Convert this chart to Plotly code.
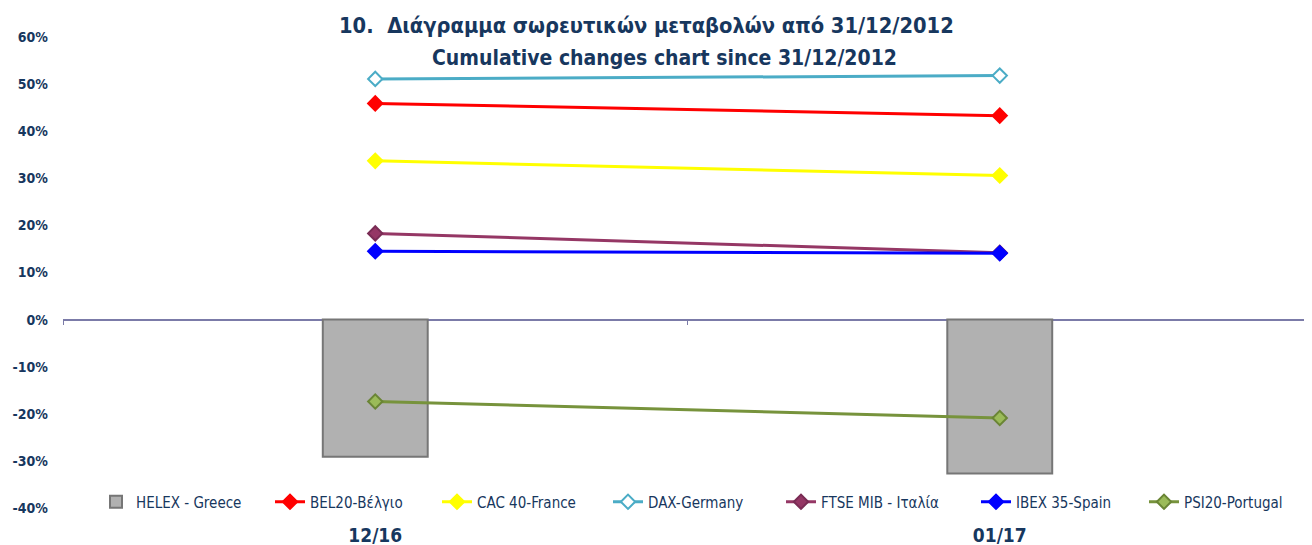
import plotly.graph_objects as go

categories = ["12/16", "01/17"]
helex = [-29.1, -32.7]
bel20 = [45.9, 43.3]
cac40 = [33.7, 30.6]
dax = [51.1, 51.8]
ftse = [18.3, 14.2]
ibex = [14.5, 14.1]
psi20 = [-17.4, -20.9]
y_ticks = [60, 50, 40, 30, 20, 10, 0, -10, -20, -30, -40]
y_tick_labels = [f"{v}%" for v in y_ticks]

FONT = "DejaVu Sans Condensed, Liberation Sans Narrow, sans-serif"
NAVY = "#17375E"

# page geometry (the page body has an 8px margin)
OFF = 8
PLOT_L, PLOT_R = 63, 1312
PLOT_T, PLOT_B = 37, 508
PW = PLOT_R - PLOT_L
PH = PLOT_B - PLOT_T


def px_x(p):
    return (p - PLOT_L) / PW


def px_y(p):
    return (PLOT_B - p) / PH


legend_text_starts = [136, 310, 477, 648, 821, 1016, 1184]

fig = go.Figure()
fig.add_trace(go.Bar(
    x=categories, y=[v / 100 for v in helex], name="HELEX - Greece",
    width=0.168, legend="legend",
    marker=dict(color="#B1B1B1", line=dict(color="#767676", width=2)),
))

lines = [
    ("BEL20-Βέλγιο", bel20, "#FF0000", "#FF0000", "#FF0000"),
    ("CAC 40-France", cac40, "#FFFF00", "#FFFF00", "#FFFF00"),
    ("DAX-Germany", dax, "#4BACC6", "#FFFFFF", "#4BACC6"),
    ("FTSE MIB - Ιταλία", ftse, "#953765", "#953765", "#7A2C55"),
    ("IBEX 35-Spain", ibex, "#0000FF", "#0000FF", "#0000FF"),
    ("PSI20-Portugal", psi20, "#77933C", "#9BBB59", "#6A8535"),
]
for i, (name, vals, col, fill, edge) in enumerate(lines):
    fig.add_trace(go.Scatter(
        x=categories, y=[v / 100 for v in vals], name=name, mode="lines+markers",
        legend=f"legend{i + 2}",
        line=dict(color=col, width=3),
        marker=dict(symbol="diamond", size=11, color=fill, line=dict(color=edge, width=2)),
    ))

# invisible helper trace so the zero-line category tick axis is drawn
fig.add_trace(go.Scatter(
    x=categories, y=[0, 0], xaxis="x2", mode="markers", showlegend=False,
    marker=dict(opacity=0), hoverinfo="skip",
))

legend_cfg = {}
for i, ts in enumerate(legend_text_starts):
    key = "legend" if i == 0 else f"legend{i + 1}"
    legend_cfg[key] = dict(
        orientation="h", x=px_x(ts - 40), xanchor="left", y=px_y(502), yanchor="middle",
        font=dict(family=FONT, size=15, color=NAVY), bgcolor="rgba(0,0,0,0)",
        borderwidth=0,
    )

fig.update_layout(
    width=1312 - OFF, height=545 - OFF,
    margin=dict(l=PLOT_L - OFF, r=0, t=PLOT_T - OFF, b=545 - PLOT_B),
    paper_bgcolor="white", plot_bgcolor="white",
    font=dict(family=FONT, color=NAVY, size=15),
    showlegend=True,
    annotations=[
        dict(text="<b>10.  Διάγραμμα σωρευτικών μεταβολών από 31/12/2012</b>",
             xref="paper", yref="paper", x=px_x(646), y=px_y(25), showarrow=False,
             xanchor="center", yanchor="middle", font=dict(family=FONT, size=21.7, color=NAVY)),
        dict(text="<b>Cumulative changes chart since 31/12/2012</b>",
             xref="paper", yref="paper", x=px_x(664), y=px_y(58), showarrow=False,
             xanchor="center", yanchor="middle", font=dict(family=FONT, size=21, color=NAVY)),
    ],
    **legend_cfg,
)
fig.update_xaxes(type="category", showgrid=False, showline=False, ticks="",
                 tickvals=categories, ticktext=[f"<b>{c}</b>" for c in categories],
                 ticklabelstandoff=14,
                 tickfont=dict(family=FONT, size=19, color=NAVY))
fig.update_layout(xaxis2=dict(matches="x", overlaying="x", anchor="free", position=px_y(319.3),
                              type="category", showgrid=False, showline=False, ticks="outside",
                              tickson="boundaries", ticklen=5, tickcolor="#7B7BA8", tickwidth=1,
                              showticklabels=False, side="bottom"))
fig.update_yaxes(range=[-0.4, 0.6], tickvals=[v / 100 for v in y_ticks],
                 ticktext=[f"<b>{t}</b>" for t in y_tick_labels],
                 showgrid=False, zeroline=True, zerolinecolor="#7B7BA8", zerolinewidth=1.5,
                 showline=False, ticks="", ticklabelstandoff=14,
                 tickfont=dict(family=FONT, size=14, color=NAVY))

fig.write_html("out.html")
